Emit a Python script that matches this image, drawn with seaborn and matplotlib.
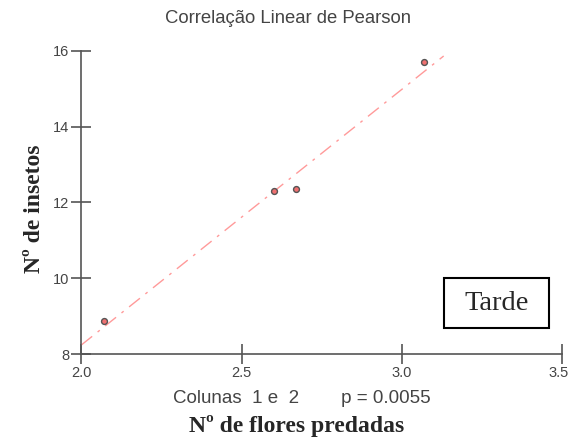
import matplotlib
matplotlib.use('Agg')
import matplotlib.pyplot as plt
import matplotlib.transforms as mtransforms
import seaborn as sns
import numpy as np
import pandas as pd
from matplotlib.patches import Rectangle

# Dados (Tarde)
flores = [2.07, 2.60, 2.67, 3.07]
insetos = [8.87, 12.31, 12.35, 15.69]
linha_x = [2.0, 3.13]          # extensão da reta de regressão
x_ticks = [2.0, 2.5, 3.0, 3.5]
y_ticks = [8, 10, 12, 14, 16]
p_valor = 0.0055

sns.set_style('white')
plt.rcParams['font.family'] = ['Liberation Sans', 'DejaVu Sans']
serif = ['Liberation Serif', 'DejaVu Serif']

df = pd.DataFrame({'flores': flores, 'insetos': insetos})

fig = plt.figure(figsize=(5.71, 4.40), dpi=100)
ax = fig.add_axes([0.1424, 0.1948, 0.8424, 0.690])

# Reta de regressão linear
coef = np.polyfit(df['flores'], df['insetos'], 1)
lx = np.array(linha_x)
ax.plot(lx, np.polyval(coef, lx), color='#ff9a9a', lw=1.0,
        linestyle=(0, (10, 5, 2, 5)), zorder=1)

sns.scatterplot(data=df, x='flores', y='insetos', ax=ax, s=18,
                color='#f07070', edgecolor='#555555', linewidth=1.0, zorder=3)

ax.set_xlim(2.0, 3.5)
ax.set_ylim(8, 16)
ax.set_xticks(x_ticks)
ax.set_yticks(y_ticks)
ax.set_xticklabels([f'{v:.1f}' for v in x_ticks])
ax.set_yticklabels([str(v) for v in y_ticks])
ax.set_xlabel('')
ax.set_ylabel('')

for s in ['top', 'right']:
    ax.spines[s].set_visible(False)
for s in ['left', 'bottom']:
    ax.spines[s].set_color('#555555')
    ax.spines[s].set_linewidth(1.2)
ax.tick_params(axis='both', which='major', bottom=True, left=True,
               direction='inout', length=15, width=1.2,
               color='#555555', labelcolor='#444444', labelsize=10.5, pad=1)

# o rótulo "3.5" fica encostado na borda; puxa um pouco para dentro
last = ax.get_xticklabels()[-1]
last.set_transform(last.get_transform() +
                   mtransforms.ScaledTranslation(-4 / 100, 0, fig.dpi_scale_trans))

fig.text(0.504, 0.958, 'Correlação Linear de Pearson', ha='center', va='center',
         fontsize=13.3, color='#444444')
fig.text(0.529, 0.095, f'Colunas  1 e  2        p = {p_valor}', ha='center',
         va='center', fontsize=13.5, color='#444444')
fig.text(0.520, 0.032, 'Nº de flores predadas', ha='center', va='center',
         fontsize=17, fontweight='bold', family=serif)
fig.text(0.061, 0.525, 'Nº de insetos', ha='center', va='center', rotation=90,
         fontsize=17, fontweight='bold', family=serif)

# Caixa "Tarde"
fig.add_artist(Rectangle((443.7 / 571, 1 - 328.3 / 440), 105.6 / 571, 50.6 / 440,
                         transform=fig.transFigure, fill=False,
                         edgecolor='black', lw=1.5))
fig.text(496.5 / 571, 1 - 303 / 440, 'Tarde', ha='center', va='center',
         fontsize=20.5, family=serif)

fig.savefig('out.png', dpi=100)
